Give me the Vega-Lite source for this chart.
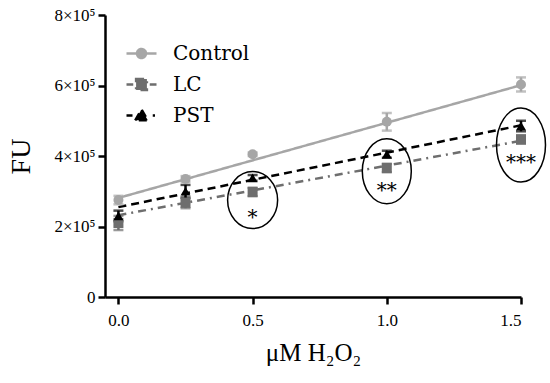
{
  "$schema": "https://vega.github.io/schema/vega-lite/v6.json",
  "autosize": "none",
  "width": 416,
  "height": 282,
  "padding": {"left": 105, "top": 15, "right": 29, "bottom": 86},
  "background": "white",
  "config": {
    "view": {"stroke": null},
    "font": "Liberation Serif",
    "legend": {"labelFont": "DejaVu Serif", "labelFontSize": 20, "labelColor": "black"},
    "axis": {
      "domainColor": "black",
      "domainWidth": 2.5,
      "tickColor": "black",
      "tickWidth": 2.5,
      "tickSize": 7,
      "labelColor": "black",
      "labelFont": "Liberation Serif",
      "labelFontSize": 17,
      "titleFont": "Liberation Serif",
      "titleFontWeight": "normal",
      "titleColor": "black",
      "grid": false
    }
  },
  "datasets": {
    "points": [
      {"series": "Control", "x": 0, "y": 275000, "err": 12000},
      {"series": "Control", "x": 0.25, "y": 335000, "err": 8000},
      {"series": "Control", "x": 0.5, "y": 405000, "err": 5000},
      {"series": "Control", "x": 1.0, "y": 497000, "err": 25000},
      {"series": "Control", "x": 1.5, "y": 603000, "err": 20000},
      {"series": "LC", "x": 0, "y": 210000, "err": 20000},
      {"series": "LC", "x": 0.25, "y": 267000, "err": 15000},
      {"series": "LC", "x": 0.5, "y": 298000, "err": 12000},
      {"series": "LC", "x": 1.0, "y": 366000, "err": 12000},
      {"series": "LC", "x": 1.5, "y": 447000, "err": 12000},
      {"series": "PST", "x": 0, "y": 230000, "err": 15000},
      {"series": "PST", "x": 0.25, "y": 300000, "err": 18000},
      {"series": "PST", "x": 0.5, "y": 338000, "err": 8000},
      {"series": "PST", "x": 1.0, "y": 405000, "err": 10000},
      {"series": "PST", "x": 1.5, "y": 485000, "err": 15000}
    ],
    "fits": [
      {"series": "Control", "x": 0, "y": 281000},
      {"series": "Control", "x": 1.5, "y": 601000},
      {"series": "LC", "x": 0, "y": 232000},
      {"series": "LC", "x": 1.5, "y": 443000},
      {"series": "PST", "x": 0, "y": 255000},
      {"series": "PST", "x": 1.5, "y": 487000}
    ],
    "ellipses": [
      {"id": "e1", "x": 0.5, "y": 275000},
      {"id": "e2", "x": 1.0, "y": 357000},
      {"id": "e3", "x": 1.5, "y": 431000}
    ],
    "stars": [
      {"x": 0.5, "y": 238000, "label": "*"},
      {"x": 1.0, "y": 315000, "label": "**"},
      {"x": 1.5, "y": 394000, "label": "***"}
    ]
  },
  "encoding": {
    "x": {
      "field": "x", "type": "quantitative",
      "scale": {"domain": [-0.05, 1.5], "nice": false, "zero": false},
      "axis": {"values": [0, 0.5, 1, 1.5], "format": ".1f", "title": "μM H₂O₂", "titleFontSize": 25, "labelPadding": 8, "titlePadding": 12}
    },
    "y": {
      "field": "y", "type": "quantitative",
      "scale": {"domain": [0, 800000], "nice": false},
      "axis": {"values": [0, 200000, 400000, 600000, 800000], "labelExpr": "datum.value == 0 ? '0' : (datum.value / 100000) + '×10⁵'", "title": "FU", "titleFontSize": 28, "labelPadding": 3, "titlePadding": 18}
    }
  },
  "layer": [
    {
      "data": {"name": "fits"},
      "mark": {"type": "line", "strokeWidth": 2.5},
      "encoding": {
        "color": {
          "field": "series", "type": "nominal",
          "scale": {"domain": ["Control", "LC", "PST"], "range": ["#a6a6a6", "#6e6e6e", "#000000"]},
          "legend": {
            "title": null,
            "orient": "none",
            "legendX": 20,
            "legendY": 22,
            "padding": 0,
            "symbolSize": 900,
            "labelOffset": 15,
            "rowPadding": 4,
            "labelFont": "DejaVu Serif",
            "labelFontSize": 20,
            "labelColor": "black",
            "encode": {
              "symbols": {
                "update": {
                  "shape": {"signal": "datum.value === 'Control' ? 'M -1 0 L 1 0 M -0.3 0 C -0.3 -0.166 -0.166 -0.3 0 -0.3 C 0.166 -0.3 0.3 -0.166 0.3 0 C 0.3 0.166 0.166 0.3 0 0.3 C -0.166 0.3 -0.3 0.166 -0.3 0 Z' : datum.value === 'LC' ? 'M -1 0 L -0.55 0 M -0.36 -0.36 L 0.36 -0.36 L 0.36 0.36 L -0.36 0.36 Z M 0.55 0 L 1 0' : 'M -1 0 L -0.6 0 M -0.42 0.32 L 0 -0.4 L 0.42 0.32 Z M 0.75 0 L 0.9 0'"},
                  "fill": {"signal": "datum.value === 'Control' ? '#a6a6a6' : datum.value === 'LC' ? '#6e6e6e' : '#000000'"},
                  "stroke": {"signal": "datum.value === 'Control' ? '#a6a6a6' : datum.value === 'LC' ? '#6e6e6e' : '#000000'"},
                  "strokeWidth": {"value": 2.5},
                  "strokeDash": {"value": [1, 0]},
                  "opacity": {"value": 1}
                }
              }
            }
          }
        },
        "strokeDash": {"field": "series", "type": "nominal", "scale": {"domain": ["Control", "LC", "PST"], "range": [[1, 0], [8, 5, 2, 5], [8, 5]]}, "legend": null}
      }
    },
    {
      "data": {"name": "points"},
      "mark": {"type": "errorbar", "thickness": 2.5, "ticks": {"size": 10, "thickness": 2.5}},
      "encoding": {
        "yError": {"field": "err"},
        "color": {"field": "series", "type": "nominal"}
      }
    },
    {
      "data": {"name": "points"},
      "mark": {"type": "point", "filled": true, "opacity": 1, "size": 100},
      "encoding": {
        "color": {"field": "series", "type": "nominal"},
        "shape": {"field": "series", "type": "nominal", "scale": {"domain": ["Control", "LC", "PST"], "range": ["circle", "square", "triangle-up"]}, "legend": null}
      }
    },
    {
      "data": {"name": "ellipses"},
      "mark": {"type": "point", "filled": false, "stroke": "black", "strokeWidth": 1.5, "size": 5476, "opacity": 1},
      "encoding": {
        "shape": {"field": "id", "type": "nominal", "scale": {"domain": ["e1", "e2", "e3"], "range": [
          "M -0.676 0 C -0.676 -0.425 -0.373 -0.77 0 -0.77 C 0.373 -0.77 0.676 -0.425 0.676 0 C 0.676 0.425 0.373 0.77 0 0.77 C -0.373 0.77 -0.676 0.425 -0.676 0 Z",
          "M -0.662 0 C -0.662 -0.485 -0.366 -0.878 0 -0.878 C 0.366 -0.878 0.662 -0.485 0.662 0 C 0.662 0.485 0.366 0.878 0 0.878 C -0.366 0.878 -0.662 0.485 -0.662 0 Z",
          "M -0.662 0 C -0.662 -0.552 -0.366 -1 0 -1 C 0.366 -1 0.662 -0.552 0.662 0 C 0.662 0.552 0.366 1 0 1 C -0.366 1 -0.662 0.552 -0.662 0 Z"
        ]}, "legend": null}
      }
    },
    {
      "data": {"name": "stars"},
      "mark": {"type": "text", "font": "DejaVu Serif", "fontSize": 20, "baseline": "middle", "align": "center", "color": "black", "dy": 5},
      "encoding": {
        "text": {"field": "label"}
      }
    }
  ],
  "resolve": {"scale": {"shape": "independent"}}
}
